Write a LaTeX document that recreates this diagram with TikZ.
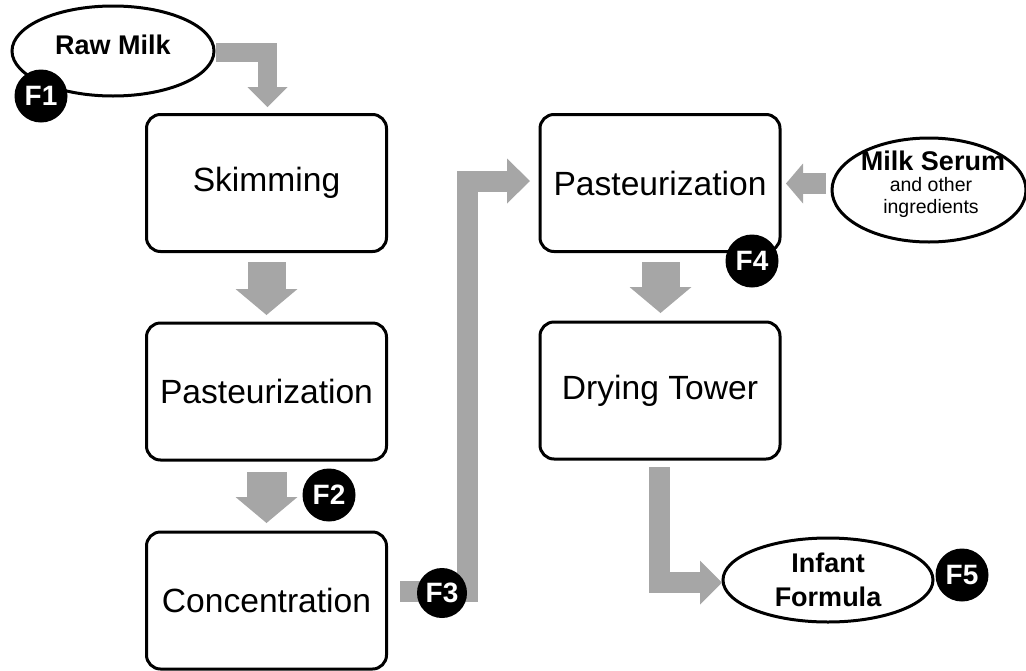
\documentclass[tikz,border=0pt]{standalone}
\usepackage{fontspec}
\setmainfont{Liberation Sans}
\usetikzlibrary{arrows.meta,shapes.geometric}
\definecolor{arrgray}{HTML}{A6A6A6}
\tikzset{
  stepbox/.style={draw=black, line width=3pt, rounded corners=14pt, fill=white,
    minimum width=240pt, minimum height=137pt, inner sep=0pt,
    font=\fontsize{33.6}{38}\selectfont},
  oval/.style={draw=black, line width=3pt, ellipse, fill=white, inner sep=0pt},
  boldlbl/.style={font=\bfseries\fontsize{27}{32}\selectfont, align=center, inner sep=0pt},
  smalllbl/.style={font=\fontsize{19.5}{23}\selectfont, align=center, inner sep=0pt},
  badge/.style={circle, fill=black, text=white, minimum size=53pt, inner sep=0pt,
    font=\bfseries\fontsize{28}{30}\selectfont},
  bigflow/.style={draw=arrgray, line width=38pt, line join=miter,
    -{Triangle[width=62pt,length=26pt,line width=0pt]}},
  thinflow/.style={draw=arrgray, line width=21pt, line join=miter,
    -{Triangle[width=44pt,length=22pt,line width=0pt]}},
}
\begin{document}
\begin{tikzpicture}[x=1pt,y=-1pt]
\useasboundingbox (0,0) rectangle (1026,670);

% process boxes
\node[stepbox] (skim) at (266.5,183) {Skimming};
\node[stepbox] (past1) at (266.5,391.5) {Pasteurization};
\node[stepbox] (conc) at (266.5,600.5) {Concentration};
\node[stepbox] (past2) at (660,183) {Pasteurization};
\node[stepbox] (dry) at (660,390.5) {Drying Tower};

% ovals
\node[oval, minimum width=202pt, minimum height=90pt] (raw) at (113,51) {};
\node[boldlbl] (rawtxt) at (113,45) {Raw Milk};
\node[oval, minimum width=194pt, minimum height=104pt] (serum) at (929,190) {};
\node[boldlbl] (serumtxt) at (933,161) {Milk Serum};
\node[smalllbl] (serumsub) at (931,197) {and other\\[-1pt]ingredients};
\node[oval, minimum width=210pt, minimum height=84pt] (infant) at (828,580) {};
\node[boldlbl, font=\bfseries\fontsize{27}{34}\selectfont] (infanttxt) at (828,580) {Infant\\Formula};

% flow coordinates
\coordinate (rawout) at (216,52.5);
\coordinate (rawbend) at (267.5,52.5);
\coordinate (skimin) at (267.5,107);
\coordinate (concout) at (400,591);
\coordinate (concbend) at (467.5,591);
\coordinate (topbend) at (467.5,181);
\coordinate (past2in) at (530,181);
\coordinate (serumout) at (826,183.5);
\coordinate (past2right) at (786,183.5);
\coordinate (dryout) at (659.5,467);
\coordinate (drybend) at (659.5,582.5);
\coordinate (infantin) at (722,582.5);

% flows
\draw[thinflow, line width=19pt, -{Triangle[width=40pt,length=20pt,line width=0pt]}]
  (rawout) -- (rawbend) -- (skimin);
\draw[bigflow] (skim.south |- 0,262) -- (skim.south |- 0,315);
\draw[bigflow, line width=40pt] (past1.south |- 0,472) -- (past1.south |- 0,523);
\draw[thinflow, -{Triangle[width=45pt,length=23pt,line width=0pt]}]
  (concout) -- (concbend) -- (topbend) -- (past2in);
\draw[thinflow, -{Triangle[width=40pt,length=17pt,line width=0pt]}]
  (serumout) -- (past2right);
\draw[bigflow] (660.5,262) -- (660.5,313);
\draw[thinflow] (dryout) -- (drybend) -- (infantin);

% badges
\node[badge] (f1) at (41,96) {F1};
\node[badge] (f2) at (329,495) {F2};
\node[badge, minimum size=50pt] (f3) at (442,593) {F3};
\node[badge] (f4) at (752,261) {F4};
\node[badge] (f5) at (962,575) {F5};
\end{tikzpicture}
\end{document}
